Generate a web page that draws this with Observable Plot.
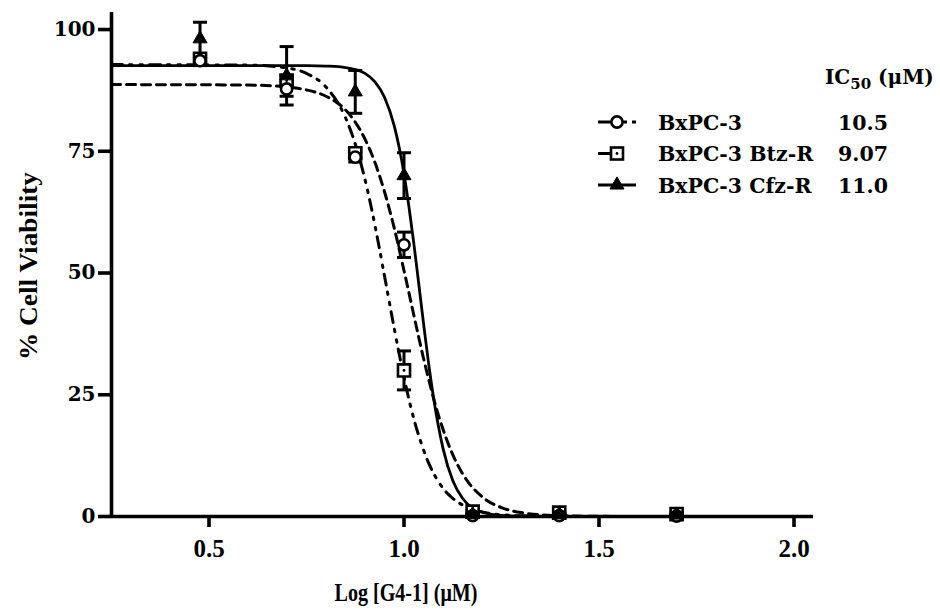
<!DOCTYPE html>
<html>
<head>
<meta charset="utf-8">
<script src="https://cdn.jsdelivr.net/npm/d3@7"></script>
<script src="https://cdn.jsdelivr.net/npm/@observablehq/plot@0.6"></script>
<style>
  body { margin: 0; background: #fff; }
  #chart { width: 940px; height: 611px; }
</style>
</head>
<body>
<div id="chart"></div>
<script>
// ---- Data ----
const doses = [0.477, 0.699, 0.875, 1.0, 1.176, 1.398, 1.699];   // Log [G4-1] (µM)

const bxMean  = [93.6, 87.8, 73.8, 55.8, 0.2, 0.2, 0.1];   // BxPC-3 (circles)
const bxSD    = [1.0, 1.5, 1.0, 2.6, 0.2, 0.2, 0.1];
const btzMean = [94.0, 89.5, 74.6, 30.0, 1.0, 0.8, 0.5];   // BxPC-3 Btz-R (squares)
const btzSD   = [1.0, 1.0, 1.0, 4.0, 0.3, 0.3, 0.2];
const cfzMean = [98.1, 90.5, 87.2, 70.0, 0.4, 0.4, 0.3];   // BxPC-3 Cfz-R (triangles)
const cfzSD   = [3.4, 6.0, 4.4, 4.7, 0.2, 0.2, 0.2];

// fitted curves, values
const fitX   = [0.25, 0.6, 0.7, 0.75, 0.8, 0.85, 0.875, 0.9, 0.925, 0.95, 0.975, 1.0, 1.0125, 1.025, 1.0375, 1.05, 1.0625, 1.075, 1.1, 1.125, 1.15, 1.2, 1.25, 1.3, 1.4, 1.5, 1.7];
const fitBx  = [88.7, 88.6, 88.2, 87.6, 86.3, 83.5, 81.0, 77.5, 72.8, 66.7, 59.2, 50.5, 46.0, 41.4, 36.9, 32.5, 28.4, 24.5, 17.9, 12.7, 8.8, 4.07, 1.83, 0.81, 0.15, 0.03, 0.0];
const fitBtz = [92.8, 92.7, 92.1, 91.0, 88.2, 81.9, 76.5, 69.2, 60.0, 49.4, 38.6, 28.6, 24.1, 20.1, 16.7, 13.7, 11.1, 9.0, 5.8, 3.73, 2.36, 0.93, 0.37, 0.14, 0.02, 0.0, 0.0];
const fitCfz = [92.6, 92.6, 92.6, 92.6, 92.5, 92.2, 91.8, 91.0, 89.3, 86.1, 80.2, 70.4, 63.7, 56.2, 48.0, 39.7, 31.8, 24.8, 14.0, 7.4, 3.75, 0.92, 0.22, 0.05, 0.0, 0.0, 0.0];

const xDomain = [0.25, 2.05];
const yDomain = [0, 103.5];
const xTicks = [0.5, 1.0, 1.5, 2.0];
const yTicks = [0, 25, 50, 75, 100];

const seriesNames = ["BxPC-3", "BxPC-3 Btz-R", "BxPC-3 Cfz-R"];
const ic50 = ["10.5", "9.07", "11.0"];

// ---- Tables ----
function pts(mean, sd) {
  return doses.map((x, i) => ({x, y: mean[i], lo: mean[i] - sd[i], hi: mean[i] + sd[i]}));
}
const bx = pts(bxMean, bxSD), btz = pts(btzMean, btzSD), cfz = pts(cfzMean, cfzSD);
const allPts = [...btz, ...bx, ...cfz];
const fits = fitX.map((x, i) => ({x, bx: fitBx[i], btz: fitBtz[i], cfz: fitCfz[i]}));

const cap = { draw(ctx, size) { const r = Math.sqrt(size / Math.PI); ctx.moveTo(-r, 0); ctx.lineTo(r, 0); } };

const SERIF = "'DejaVu Serif', serif";
const LSERIF = "'Liberation Serif', serif";

const svg = Plot.plot({
  width: 940, height: 611,
  marginLeft: 111, marginRight: 127, marginTop: 12, marginBottom: 95,
  x: {domain: xDomain},
  y: {domain: yDomain},
  style: {background: "white", color: "black", overflow: "visible"},
  marks: [
    Plot.line(fits, {x: "x", y: "bx", curve: "monotone-x", stroke: "black", strokeWidth: 3, strokeDasharray: "9,6"}),
    Plot.line(fits, {x: "x", y: "btz", curve: "monotone-x", stroke: "black", strokeWidth: 3, strokeDasharray: "11,7,2.5,8,2.5,7"}),
    Plot.line(fits, {x: "x", y: "cfz", curve: "monotone-x", stroke: "black", strokeWidth: 2.8}),
    Plot.ruleY([yDomain[0]], {stroke: "black", strokeWidth: 3.6}),
    Plot.ruleX([xDomain[0]], {stroke: "black", strokeWidth: 3.6}),
    Plot.ruleX(allPts, {x: "x", y1: "lo", y2: "hi", stroke: "black", strokeWidth: 3}),
    Plot.dot(allPts, {x: "x", y: "lo", symbol: cap, r: 7, fill: "none", stroke: "black", strokeWidth: 3}),
    Plot.dot(allPts, {x: "x", y: "hi", symbol: cap, r: 7, fill: "none", stroke: "black", strokeWidth: 3}),
    Plot.dot(btz, {x: "x", y: "y", symbol: "square", r: 6.8, fill: "white", stroke: "black", strokeWidth: 2.6}),
    Plot.dot(btz, {x: "x", y: "y", symbol: "circle", r: 1.4, fill: "black"}),
    Plot.dot(bx, {x: "x", y: "y", symbol: "circle", r: 5.6, fill: "white", stroke: "black", strokeWidth: 2.6}),
    Plot.dot(cfz, {x: "x", y: "y", symbol: "triangle", r: 5.2, fill: "black", stroke: "black", strokeWidth: 1}),
    Plot.axisX({ticks: xTicks, tickFormat: d3.format(".1f"), tickSize: 11, tickPadding: 12, stroke: "black", strokeWidth: 3.6,
      fontSize: 25, fontFamily: LSERIF, fontWeight: "bold", label: null}),
    Plot.axisY({ticks: yTicks, tickFormat: d => String(d), tickSize: 13, tickPadding: 3, stroke: "black", strokeWidth: 3.6,
      fontSize: 20, fontFamily: SERIF, fontWeight: "bold", label: null})
  ]
});

document.getElementById("chart").appendChild(svg);

// ---- Titles ----
const s = d3.select(svg);
s.append("text")
  .attr("x", 406).attr("y", 601).attr("text-anchor", "middle")
  .attr("font-family", LSERIF).attr("font-weight", "bold").attr("font-size", 25)
  .attr("textLength", 143).attr("lengthAdjust", "spacingAndGlyphs")
  .attr("fill", "black")
  .text("Log [G4-1] (μM)");
s.append("text")
  .attr("transform", "translate(37,266) rotate(-90)").attr("text-anchor", "middle")
  .attr("font-family", LSERIF).attr("font-weight", "bold").attr("font-size", 25)
  .attr("textLength", 188).attr("lengthAdjust", "spacingAndGlyphs")
  .attr("fill", "black")
  .text("% Cell Viability");

// ---- Legend ----
const lg = s.append("g").attr("font-family", SERIF).attr("font-weight", "bold").attr("fill", "black").attr("text-anchor", "start");
const hdr = lg.append("text").attr("x", 825).attr("y", 84).attr("font-size", 20).attr("text-anchor", "start");
hdr.append("tspan").text("IC");
hdr.append("tspan").attr("font-size", 15).attr("dy", 5).text("50");
hdr.append("tspan").attr("dy", -5).text(" (μM)");

const rowY = [122, 153.5, 185];
seriesNames.forEach((name, i) => {
  const cy = rowY[i];
  const g = lg.append("g");
  if (i === 0) {
    g.append("line").attr("x1", 598).attr("x2", 607).attr("y1", cy).attr("y2", cy).attr("stroke", "black").attr("stroke-width", 3);
    g.append("line").attr("x1", 632).attr("x2", 636).attr("y1", cy).attr("y2", cy).attr("stroke", "black").attr("stroke-width", 3);
    g.append("line").attr("x1", 607).attr("x2", 627).attr("y1", cy).attr("y2", cy).attr("stroke", "black").attr("stroke-width", 3);
    g.append("circle").attr("cx", 617).attr("cy", cy).attr("r", 5.6).attr("fill", "white").attr("stroke", "black").attr("stroke-width", 2.6);
  } else if (i === 1) {
    g.append("line").attr("x1", 598).attr("x2", 611).attr("y1", cy).attr("y2", cy).attr("stroke", "black").attr("stroke-width", 3);
    g.append("rect").attr("x", 611).attr("y", cy - 6).attr("width", 12).attr("height", 12).attr("fill", "white").attr("stroke", "black").attr("stroke-width", 2.6);
    g.append("circle").attr("cx", 617).attr("cy", cy).attr("r", 1.4).attr("fill", "black");
  } else {
    g.append("line").attr("x1", 598).attr("x2", 636).attr("y1", cy).attr("y2", cy).attr("stroke", "black").attr("stroke-width", 2.8);
    g.append("path").attr("transform", `translate(617,${cy})`).attr("d", d3.symbol(d3.symbolTriangle, 5.2 * 5.2 * Math.PI)()).attr("fill", "black").attr("stroke", "black");
  }
  lg.append("text").attr("x", 658).attr("y", cy + 7.5).attr("font-size", 20.5).attr("text-anchor", "start").text(name);
  lg.append("text").attr("x", 838).attr("y", cy + 7.5).attr("font-size", 20.5).attr("text-anchor", "start").text(ic50[i]);
});
</script>
</body>
</html>
